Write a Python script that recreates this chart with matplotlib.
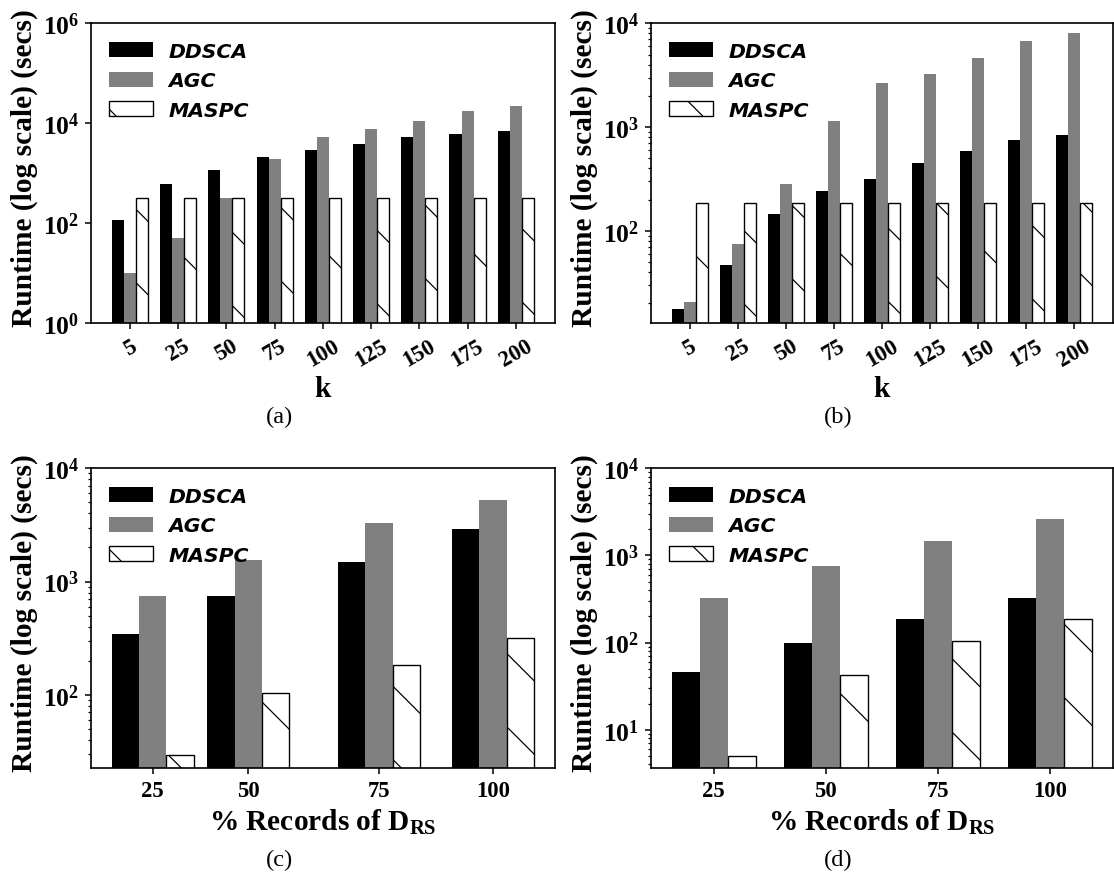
import numpy as np
import matplotlib
matplotlib.use('Agg')
import matplotlib.pyplot as plt
from matplotlib.ticker import FixedLocator, NullLocator, LogLocator, FuncFormatter
from matplotlib.font_manager import FontProperties

# values (secs)
k_labels = ['5', '25', '50', '75', '100', '125', '150', '175', '200']
a_ddsca = [115, 620, 1180, 2150, 2960, 3800, 5250, 6200, 7100]
a_agc = [10, 50, 323, 1970, 5250, 7800, 11200, 17800, 22500]
a_maspc = [323, 323, 323, 323, 323, 323, 323, 323, 323]

b_ddsca = [17.5, 47, 144, 240, 318, 448, 592, 755, 843]
b_agc = [20.5, 74, 285, 1142, 2650, 3235, 4600, 6750, 8100]
b_maspc = [187, 187, 187, 187, 187, 187, 187, 187, 187]

pct_labels = ['25', '50', '75', '100']
c_ddsca = [342, 753, 1500, 2925]
c_agc = [753, 1563, 3300, 5260]
c_maspc = [29.3, 103, 182, 315]

d_ddsca = [45.7, 98, 185, 322]
d_agc = [322, 748, 1450, 2630]
d_maspc = [4.95, 42, 103, 185]

DPI = 220
plt.rcParams['font.family'] = ['Liberation Serif', 'DejaVu Serif']
plt.rcParams['mathtext.fontset'] = 'custom'
plt.rcParams['mathtext.rm'] = 'Liberation Serif'
plt.rcParams['mathtext.bf'] = 'Liberation Serif:bold'
plt.rcParams['hatch.linewidth'] = 0.4

fig = plt.figure(figsize=(1114 / DPI, 882 / DPI), dpi=DPI)

leg_font = FontProperties(family='DejaVu Sans', weight='bold', style='italic', size=6.7)
ytick_fs = 8.4
xtick_fs = 7.4
label_fs = 9.6


def pow_fmt(v, p):
    return r'$\mathbf{10^{%d}}$' % int(round(np.log10(v)))


def panel(rect, pos, labels, ddsca, agc, maspc, ylim, majors, minor, rot, xlabel, xpad):
    ax = fig.add_axes(rect)
    w = 0.25
    pos = np.asarray(pos, dtype=float)
    ax.bar(pos - w, ddsca, w, color='black', linewidth=0, label='DDSCA')
    ax.bar(pos, agc, w, color='#808080', linewidth=0, label='AGC')
    ax.bar(pos + w, maspc, w, facecolor='white', edgecolor='black',
           linewidth=0.45, hatch='\\', label='MASPC')
    ax.set_yscale('log')
    ax.set_ylim(ylim)
    ax.yaxis.set_major_locator(FixedLocator(majors))
    if minor:
        ax.yaxis.set_minor_locator(LogLocator(base=10, subs=np.arange(2, 10)))
    else:
        ax.yaxis.set_minor_locator(NullLocator())
    ax.yaxis.set_major_formatter(FuncFormatter(pow_fmt))
    ax.yaxis.set_minor_formatter(FuncFormatter(lambda v, p: ''))
    ax.set_xticks(pos)
    if rot:
        ax.set_xticklabels(labels, rotation=30, ha='center', fontsize=xtick_fs, fontweight='bold')
    else:
        ax.set_xticklabels(labels, fontsize=xtick_fs, fontweight='bold')
    ax.tick_params(axis='y', which='major', labelsize=ytick_fs, length=1.9, width=0.5, pad=1.8,
                   direction='out', right=False)
    ax.tick_params(axis='y', which='minor', length=1.0, width=0.4, direction='out', right=False)
    ax.tick_params(axis='x', which='both', length=1.9, width=0.5, pad=2.0, direction='out', top=False)
    for s in ax.spines.values():
        s.set_linewidth(0.55)
        s.set_color('black')
    ax.set_ylabel('Runtime (log scale) (secs)', fontsize=label_fs, fontweight='bold')
    ax.yaxis.set_label_coords(-0.113, 0.52)
    ax.set_xlabel(xlabel, fontsize=label_fs, fontweight='bold', labelpad=xpad)
    ax.legend(loc='upper left', frameon=False, prop=leg_font, handlelength=2.15,
              handleheight=0.75, handletextpad=0.75, labelspacing=0.52)
    return ax


n = len(k_labels)
panel([0.0814, 0.6323, 0.4168, 0.3401], np.arange(n), k_labels, a_ddsca, a_agc, a_maspc,
      (1, 1e6), [1, 1e2, 1e4, 1e6], False, True, 'k', 1.5)
panel([0.5841, 0.6323, 0.4150, 0.3401], np.arange(n), k_labels, b_ddsca, b_agc, b_maspc,
      (12.85, 1e4), [1e2, 1e3, 1e4], True, True, 'k', 1.5)

rs_label = r'% Records of $\mathbf{D_{RS}}$'
panel([0.0814, 0.1281, 0.4168, 0.3398], [0, 0.875, 2.07, 3.11], pct_labels, c_ddsca, c_agc, c_maspc,
      (22.6, 1e4), [1e2, 1e3, 1e4], True, False, rs_label, 2.0)
panel([0.5841, 0.1281, 0.4150, 0.3398], np.arange(len(pct_labels)), pct_labels, d_ddsca, d_agc, d_maspc,
      (3.64, 1e4), [1e1, 1e2, 1e3, 1e4], True, False, rs_label, 2.0)

cap_fs = 8
fig.text(0.2513, 0.5272, '(a)', ha='center', va='center', fontsize=cap_fs)
fig.text(0.7522, 0.5272, '(b)', ha='center', va='center', fontsize=cap_fs)
fig.text(0.2513, 0.0249, '(c)', ha='center', va='center', fontsize=cap_fs)
fig.text(0.7522, 0.0249, '(d)', ha='center', va='center', fontsize=cap_fs)

fig.savefig('out.png', dpi=DPI)
